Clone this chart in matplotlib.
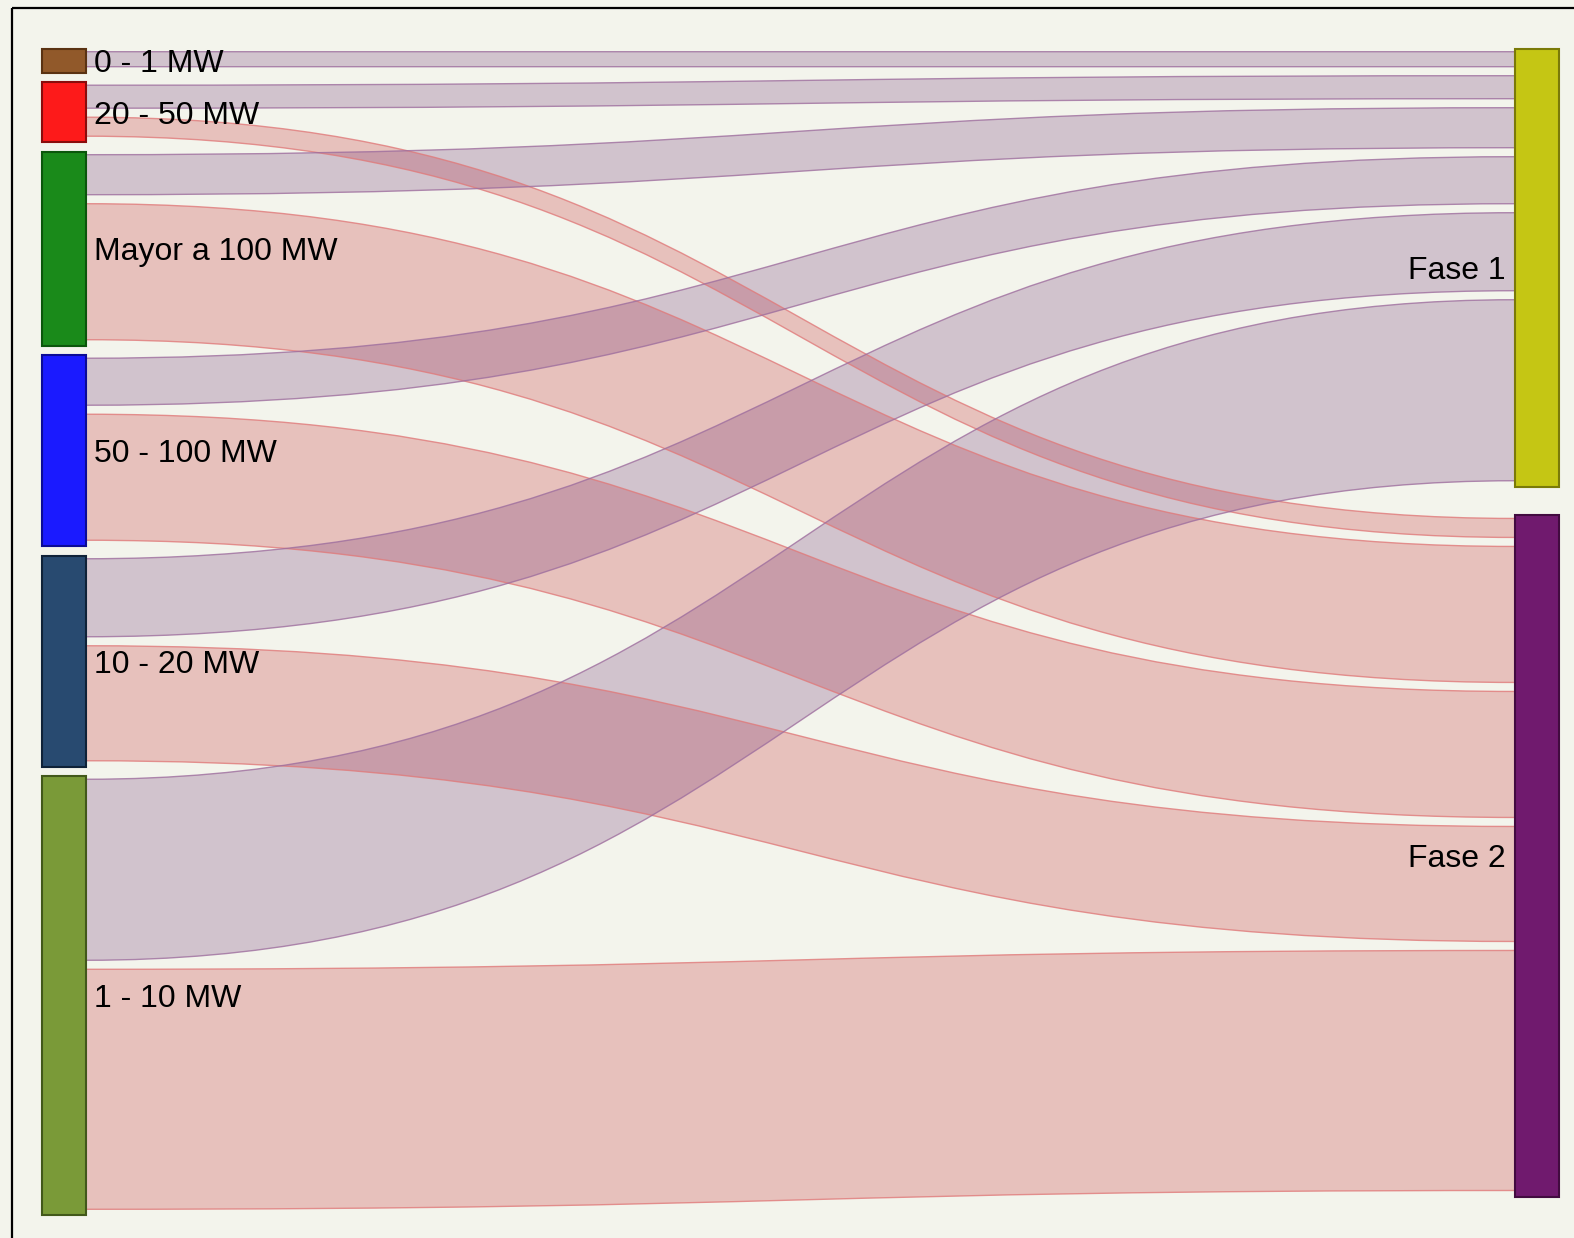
import matplotlib
matplotlib.use("Agg")
import matplotlib.pyplot as plt
from matplotlib.path import Path
from matplotlib.patches import PathPatch, Rectangle

# ---------------- data ----------------
source_nodes = ["0 - 1 MW", "20 - 50 MW", "Mayor a 100 MW", "50 - 100 MW", "10 - 20 MW", "1 - 10 MW"]
target_nodes = ["Fase 1", "Fase 2"]

link_source = ["0 - 1 MW", "20 - 50 MW", "20 - 50 MW", "Mayor a 100 MW", "Mayor a 100 MW",
               "50 - 100 MW", "50 - 100 MW", "10 - 20 MW", "10 - 20 MW", "1 - 10 MW", "1 - 10 MW"]
link_target = ["Fase 1", "Fase 1", "Fase 2", "Fase 1", "Fase 2",
               "Fase 1", "Fase 2", "Fase 1", "Fase 2", "Fase 1", "Fase 2"]
link_value = [15, 23, 19, 40, 136, 47, 126, 78, 115, 181, 240]

source_colors = ["#91592a", "#fd1a1a", "#1a8a1a", "#1a1aff", "#284a70", "#7a9a38"]
source_edges = ["#5a3212", "#8a0c0c", "#0b560b", "#0b0b96", "#0f2238", "#42581a"]
target_colors = ["#c5c614", "#701a6e"]
target_edges = ["#7a7a08", "#420b40"]
link_fill = {"Fase 1": "#6c3174", "Fase 2": "#c42930"}
link_line = {"Fase 1": "#9e6e9e", "Fase 2": "#e07a7a"}

# ---------------- layout ----------------
W, H = 1574, 1238
BG = "#f3f4ec"
top, bottom = 48.7, 1215.3
left_x0, left_x1 = 42, 86
right_x0, right_x1 = 1515, 1559
node_gap = 9.5
right_gap = 28.7
link_pad = 9.0      # slot padding per link
inset_top = 3.0

n_links = len(link_value)
avail = (bottom - top) - node_gap * (len(source_nodes) - 1) - link_pad * n_links
ky = avail / sum(link_value)

def slot(v):
    return v * ky + link_pad

# source node extents
src_pos = {}
y = top
for n in source_nodes:
    h = sum(slot(v) for s, v in zip(link_source, link_value) if s == n)
    src_pos[n] = (y, y + h)
    y += h + node_gap

tgt_pos = {}
y = top
for n in target_nodes:
    h = sum(slot(v) for t, v in zip(link_target, link_value) if t == n)
    tgt_pos[n] = (y, y + h)
    y += h + right_gap

# link slots
src_cursor = {n: src_pos[n][0] for n in source_nodes}
tgt_cursor = {n: tgt_pos[n][0] for n in target_nodes}
links = []
for s in source_nodes:
    for t in target_nodes:
        for ls, lt, v in zip(link_source, link_target, link_value):
            if ls == s and lt == t:
                ys = src_cursor[s]
                src_cursor[s] += slot(v)
                links.append([s, t, v, ys, None])
for t in target_nodes:
    for lk in links:
        if lk[1] == t:
            lk[4] = tgt_cursor[t]
            tgt_cursor[t] += slot(lk[2])

# ---------------- draw ----------------
fig = plt.figure(figsize=(W / 100, H / 100), dpi=100, facecolor=BG)
ax = fig.add_axes([0, 0, 1, 1])
ax.set_xlim(0, W)
ax.set_ylim(H, 0)
ax.axis("off")
ax.set_facecolor(BG)

xm = (left_x1 + right_x0) / 2
for s, t, v, ys, yt in links:
    w = v * ky
    s0, s1 = ys + inset_top, ys + inset_top + w
    t0, t1 = yt + inset_top, yt + inset_top + w
    verts = [(left_x1, s0), (xm, s0), (xm, t0), (right_x0, t0),
             (right_x0, t1), (xm, t1), (xm, s1), (left_x1, s1), (left_x1, s0)]
    codes = [Path.MOVETO, Path.CURVE4, Path.CURVE4, Path.CURVE4,
             Path.LINETO, Path.CURVE4, Path.CURVE4, Path.CURVE4, Path.CLOSEPOLY]
    ax.add_patch(PathPatch(Path(verts, codes), facecolor=link_fill[t], alpha=0.25,
                           edgecolor="none", zorder=2))
    for a, b in ((s0, t0), (s1, t1)):
        p = Path([(left_x1, a), (xm, a), (xm, b), (right_x0, b)],
                 [Path.MOVETO, Path.CURVE4, Path.CURVE4, Path.CURVE4])
        ax.add_patch(PathPatch(p, facecolor="none", edgecolor=link_line[t],
                               lw=1.0, alpha=0.8, zorder=3))

fs = 23
cap = 0.716 * fs * 100 / 72
for i, n in enumerate(source_nodes):
    y0, y1 = src_pos[n]
    ax.add_patch(Rectangle((left_x0, y0), left_x1 - left_x0, y1 - y0,
                           facecolor=source_colors[i], edgecolor=source_edges[i],
                           lw=1.5, zorder=4))
    ax.text(left_x1 + 8, (y0 + y1) / 2 + cap / 2, n, fontsize=fs,
            family="Liberation Sans", ha="left", va="baseline", zorder=5)
for i, n in enumerate(target_nodes):
    y0, y1 = tgt_pos[n]
    ax.add_patch(Rectangle((right_x0, y0), right_x1 - right_x0, y1 - y0,
                           facecolor=target_colors[i], edgecolor=target_edges[i],
                           lw=1.5, zorder=4))
    ax.text(right_x0 - 9, (y0 + y1) / 2 + cap / 2, n, fontsize=fs,
            family="Liberation Sans", ha="right", va="baseline", zorder=5)

# frame
ax.add_patch(Rectangle((12, 8), W + 40, H + 40, facecolor="none",
                       edgecolor="black", lw=1.6, zorder=6, clip_on=False))

fig.savefig("out.png", dpi=100, facecolor=BG)
